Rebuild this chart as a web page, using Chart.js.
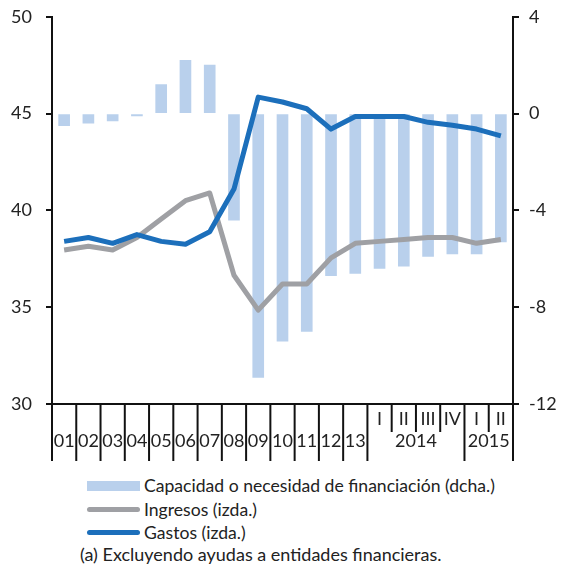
<!DOCTYPE html>
<html lang="es">
<head>
    <meta charset="UTF-8">
    <title>Capacidad o necesidad de financiación</title>
    <script src="https://cdn.jsdelivr.net/npm/chart.js"></script>
    <style>
        body {
            margin: 0;
            background: #fff;
            font-family: 'Lato', sans-serif;
            color: #222;
            overflow: hidden;
        }
        .wrap {
            position: relative;
            width: 562px;
            height: 573px;
            overflow: hidden;
        }
        .chart-box {
            position: absolute;
            left: 0;
            top: -8px;
            width: 562px;
            height: 478px;
        }
        .legend {
            position: absolute;
            left: 87px;
            top: 474px;
            font-size: 17.6px;
            line-height: 23.5px;
        }
        .legend .row {
            display: flex;
            align-items: center;
            white-space: nowrap;
        }
        .legend .sw {
            width: 53px;
            margin-right: 4px;
        }
        .sw.bar { height: 10px; background: #b9d0ec; }
        .sw.gray { height: 5px; border-radius: 3px; background: #9fa0a4; }
        .sw.blue { height: 5px; border-radius: 3px; background: #1c6fbb; }
        .note {
            position: absolute;
            left: 80px;
            top: 543px;
            font-size: 18px;
            white-space: nowrap;
        }
    </style>
</head>
<body>
<div class="wrap">
    <div class="chart-box"><canvas id="chart" width="562" height="478"></canvas></div>
    <div class="legend">
        <div class="row"><span class="sw bar"></span>Capacidad o necesidad de financiación (dcha.)</div>
        <div class="row"><span class="sw gray"></span>Ingresos (izda.)</div>
        <div class="row"><span class="sw blue"></span>Gastos (izda.)</div>
    </div>
    <div class="note">(a) Excluyendo ayudas a entidades financieras.</div>
</div>

<script>
    // Data
    const categories = ['01', '02', '03', '04', '05', '06', '07', '08', '09', '10', '11', '12', '13',
        '2014-I', '2014-II', '2014-III', '2014-IV', '2015-I', '2015-II'];
    const yearLabels = ['01', '02', '03', '04', '05', '06', '07', '08', '09', '10', '11', '12', '13'];
    const quarterLabels = ['I', 'II', 'III', 'IV', 'I', 'II'];
    const groupLabels = ['2014', '2015'];
    const groupSizes = [4, 2];

    const capacidad = [-0.5, -0.4, -0.3, -0.1, 1.2, 2.2, 2.0, -4.4, -10.9, -9.4, -9.0, -6.7, -6.6,
        -6.4, -6.3, -5.9, -5.8, -5.8, -5.3];
    const ingresos = [37.95, 38.15, 37.95, 38.6, 39.55, 40.5, 40.9, 36.65, 34.85, 36.2, 36.2, 37.55, 38.3,
        38.4, 38.5, 38.6, 38.6, 38.3, 38.5];
    const gastos = [38.4, 38.6, 38.3, 38.75, 38.4, 38.25, 38.9, 41.1, 45.85, 45.6, 45.25, 44.2, 44.85,
        44.85, 44.85, 44.55, 44.4, 44.2, 43.85];

    Chart.defaults.font.family = 'Lato, sans-serif';
    Chart.defaults.font.size = 18;
    Chart.defaults.color = '#222';

    // draws the two-level category axis under the plot
    const axisLabels = {
        id: 'axisLabels',
        afterDraw(chart) {
            const ctx = chart.ctx;
            const x = chart.scales.x;
            const bottom = chart.chartArea.bottom;
            const half = (x.getPixelForValue(1) - x.getPixelForValue(0)) / 2;
            const nYears = yearLabels.length;
            ctx.save();
            ctx.strokeStyle = '#111';
            ctx.lineWidth = 2;
            ctx.fillStyle = '#222';
            ctx.font = '18px Lato, sans-serif';
            ctx.textAlign = 'center';
            ctx.textBaseline = 'middle';

            const vline = (px, len) => {
                ctx.beginPath();
                ctx.moveTo(px, bottom);
                ctx.lineTo(px, bottom + len);
                ctx.stroke();
            };

            // yearly categories
            for (let i = 0; i < nYears; i++) {
                const c = x.getPixelForValue(i);
                vline(c - half, 57);
                ctx.fillText(yearLabels[i], c, bottom + 37);
            }

            // quarterly categories
            let idx = nYears;
            groupLabels.forEach((g, gi) => {
                const start = idx;
                const end = idx + groupSizes[gi] - 1;
                vline(x.getPixelForValue(start) - half, 57);
                for (let k = start; k <= end; k++) {
                    const c = x.getPixelForValue(k);
                    if (k > start) vline(c - half, 28);
                    ctx.fillText(quarterLabels[k - nYears], c, bottom + 15);
                }
                const mid = (x.getPixelForValue(start) + x.getPixelForValue(end)) / 2;
                ctx.fillText(g, mid, bottom + 37);
                idx = end + 1;
            });
            vline(x.getPixelForValue(categories.length - 1) + half, 57);
            ctx.restore();
        }
    };

    new Chart(document.getElementById('chart'), {
        data: {
            labels: categories,
            datasets: [
                {
                    type: 'line',
                    label: 'Gastos (izda.)',
                    data: gastos,
                    yAxisID: 'y',
                    borderColor: '#1c6fbb',
                    borderWidth: 5,
                    pointRadius: 0,
                    tension: 0,
                    borderJoinStyle: 'round',
                    order: 1
                },
                {
                    type: 'line',
                    label: 'Ingresos (izda.)',
                    data: ingresos,
                    yAxisID: 'y',
                    borderColor: '#9fa0a4',
                    borderWidth: 5,
                    pointRadius: 0,
                    tension: 0,
                    borderJoinStyle: 'round',
                    order: 2
                },
                {
                    type: 'bar',
                    label: 'Capacidad o necesidad de financiación (dcha.)',
                    data: capacidad,
                    yAxisID: 'y1',
                    backgroundColor: '#b9d0ec',
                    barThickness: 11,
                    order: 3
                }
            ]
        },
        options: {
            responsive: false,
            animation: false,
            layout: { padding: { top: 8 } },
            plugins: {
                legend: { display: false },
                tooltip: { enabled: false }
            },
            scales: {
                x: {
                    grid: { display: false },
                    ticks: { display: false },
                    border: { display: true, color: '#111', width: 2 },
                    afterFit(scale) { scale.height = 66; }
                },
                y: {
                    position: 'left',
                    min: 30,
                    max: 50,
                    ticks: { stepSize: 5, padding: 14 },
                    grid: { drawOnChartArea: false, color: '#111', lineWidth: 2, tickLength: 6 },
                    border: { color: '#111', width: 2 },
                    afterFit(scale) { scale.width = 52; }
                },
                y1: {
                    position: 'right',
                    min: -12,
                    max: 4,
                    ticks: { stepSize: 4, padding: 10 },
                    grid: { drawOnChartArea: false, color: '#111', lineWidth: 2, tickLength: 6 },
                    border: { color: '#111', width: 2 },
                    afterFit(scale) { scale.width = 49; }
                }
            }
        },
        plugins: [axisLabels]
    });
</script>
</body>
</html>
